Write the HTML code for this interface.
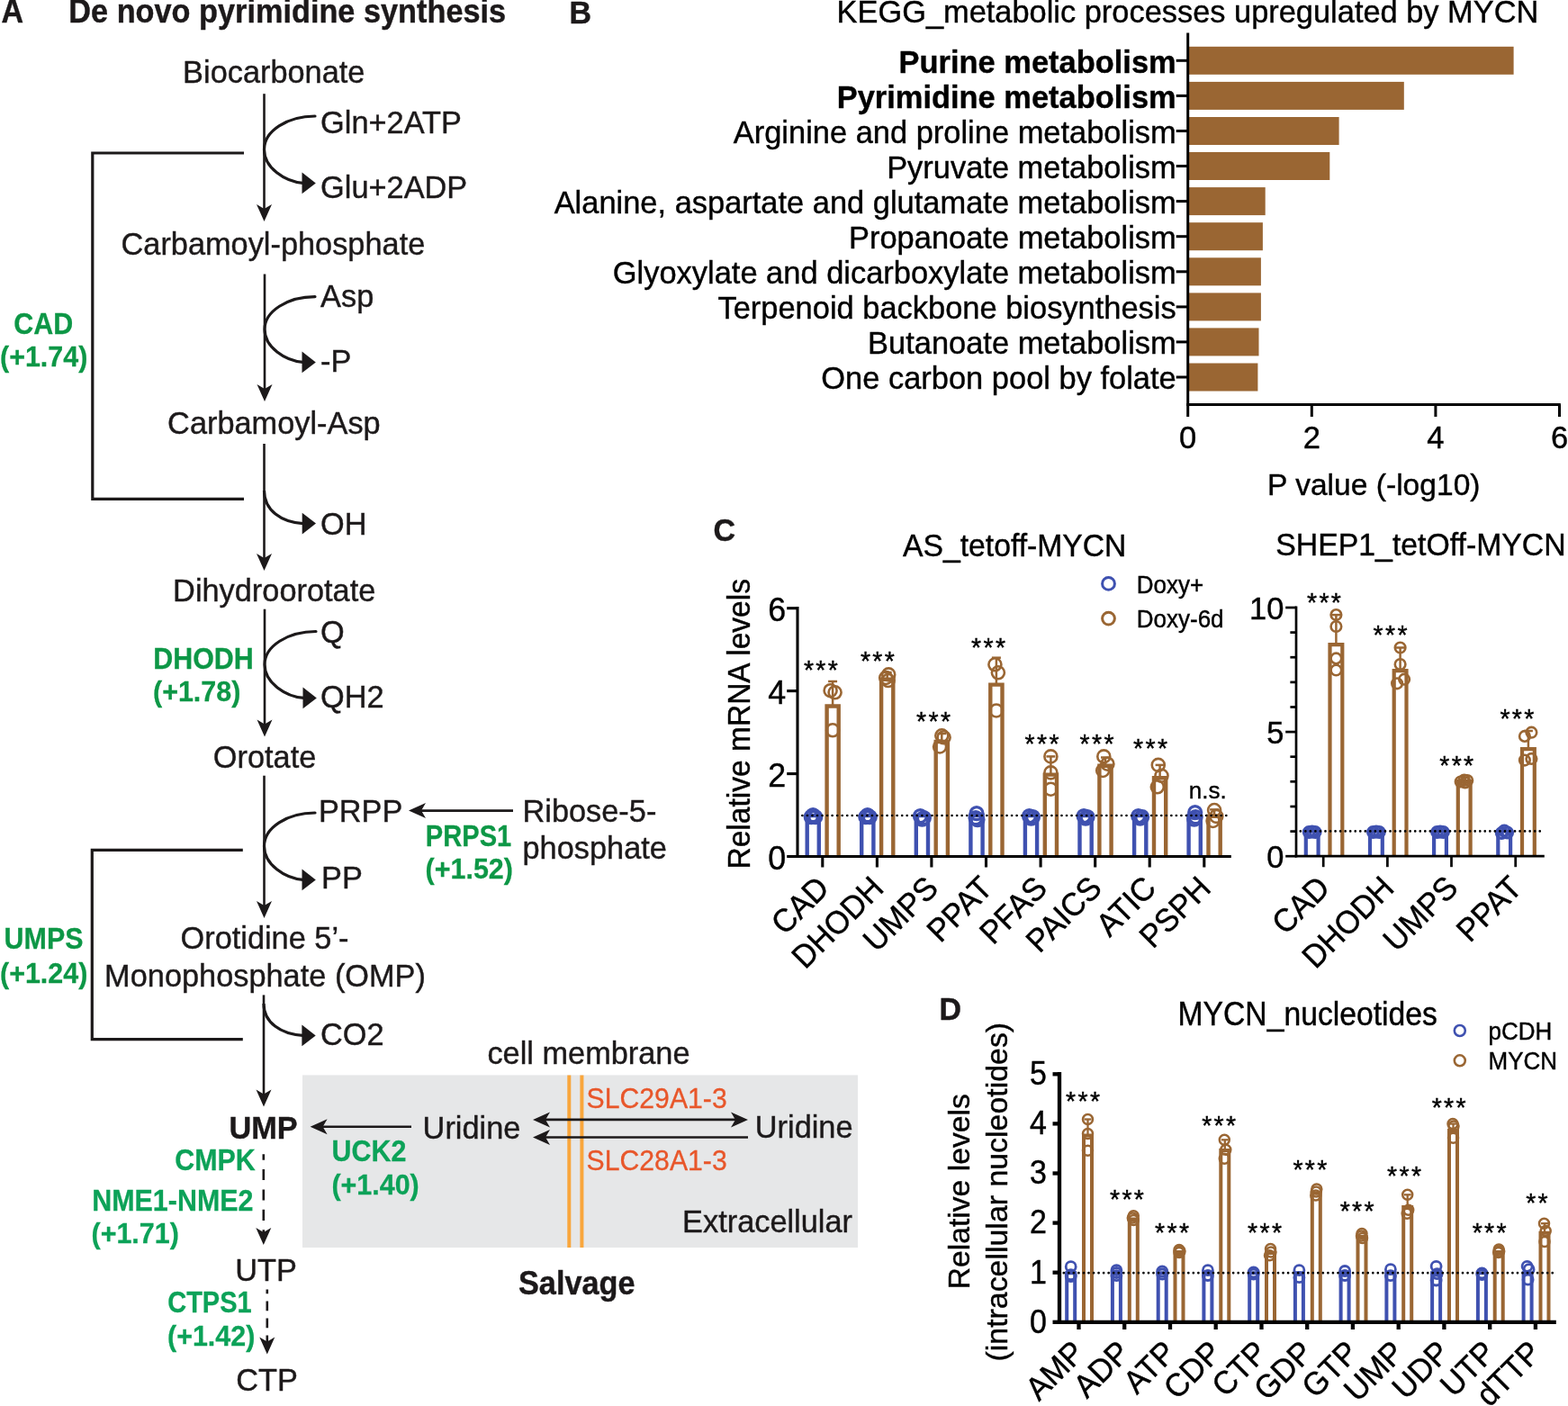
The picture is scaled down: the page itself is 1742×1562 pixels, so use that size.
<!DOCTYPE html>
<html lang="en">
<head>
<meta charset="utf-8">
<title>MYCN upregulates de novo pyrimidine synthesis</title>
<style>
html,body{margin:0;padding:0;background:#fff;}
body{width:1742px;height:1562px;overflow:hidden;}
svg{display:block;font-family:"Liberation Sans",sans-serif;fill:#1c191a;}
</style>
</head>
<body>
<svg width="1742" height="1562" viewBox="0 0 1742 1562">
<rect width="1742" height="1562" fill="#ffffff"/>
<text transform="translate(1.5 25.4) scale(1 1.075)" font-size="34" font-weight="bold" fill="#1c191a" stroke="#1c191a" stroke-width="0.4">A</text>
<text transform="translate(76.3 25.4) scale(1 1.075)" font-size="34.3" font-weight="bold" fill="#1c191a" stroke="#1c191a" stroke-width="0.4">De novo pyrimidine synthesis</text>
<text transform="translate(203.1 91.8) scale(1 1.035)" font-size="34.35" fill="#1c191a" stroke="#1c191a" stroke-width="0.4">Biocarbonate</text>
<line x1="293.5" y1="104.2" x2="293.5" y2="233.0" stroke="#1c191a" stroke-width="2.6"/>
<polygon points="293.5,246.0 285.0,227.0 293.5,232.0 302.0,227.0" fill="#1c191a"/>
<path d="M350.0,129.0 C318.9,129.0 293.5,145.7 293.5,166.0 C293.5,186.6 316.6,201.9 336.5,203.4" stroke="#1c191a" stroke-width="3.2" fill="none" stroke-linecap="round"/>
<polygon points="335.5,191.6 335.5,215.2 350.8,203.4" fill="#1c191a"/>
<text transform="translate(356.1 148.2) scale(1 1.035)" font-size="34.35" fill="#1c191a" stroke="#1c191a" stroke-width="0.4">Gln+2ATP</text>
<text transform="translate(356.1 219.6) scale(1 1.035)" font-size="34.35" fill="#1c191a" stroke="#1c191a" stroke-width="0.4">Glu+2ADP</text>
<path d="M271,170 H102.8 V554.4 H271" stroke="#1c191a" stroke-width="3.2" fill="none"/>
<text transform="translate(134.5 282.7) scale(1 1.035)" font-size="34.35" fill="#1c191a" stroke="#1c191a" stroke-width="0.4">Carbamoyl-phosphate</text>
<line x1="294.0" y1="304.5" x2="294.0" y2="433.0" stroke="#1c191a" stroke-width="2.6"/>
<polygon points="294.0,446.0 285.5,427.0 294.0,432.0 302.5,427.0" fill="#1c191a"/>
<path d="M350.0,329.6 C319.2,329.6 294.0,345.9 294.0,365.8 C294.0,385.9 316.8,400.9 336.5,402.4" stroke="#1c191a" stroke-width="3.2" fill="none" stroke-linecap="round"/>
<polygon points="335.5,390.6 335.5,414.2 350.8,402.4" fill="#1c191a"/>
<text transform="translate(356.1 341.2) scale(1 1.035)" font-size="34.35" fill="#1c191a" stroke="#1c191a" stroke-width="0.4">Asp</text>
<text transform="translate(356.1 412.5) scale(1 1.02)" font-size="34.35" fill="#1c191a" stroke="#1c191a" stroke-width="0.4">-P</text>
<text transform="translate(15.2 371.0) scale(1 1.11)" font-size="30.45" font-weight="bold" fill="#0d9746" stroke="#0d9746" stroke-width="0.25">CAD</text>
<text transform="translate(0.0 406.5) scale(1 1.03)" font-size="30.45" font-weight="bold" fill="#0d9746" stroke="#0d9746" stroke-width="0.25">(+1.74)</text>
<text transform="translate(186.1 482.2) scale(1 1.035)" font-size="34.35" fill="#1c191a" stroke="#1c191a" stroke-width="0.4">Carbamoyl-Asp</text>
<line x1="293.5" y1="493.0" x2="293.5" y2="621.0" stroke="#1c191a" stroke-width="2.6"/>
<polygon points="293.5,634.0 285.0,615.0 293.5,620.0 302.0,615.0" fill="#1c191a"/>
<path d="M293.5,545.0 C293.5,567.0 312.5,580.1 336.7,581.6" stroke="#1c191a" stroke-width="3.2" fill="none"/>
<polygon points="335.7,569.8 335.7,593.4 351.0,581.6" fill="#1c191a"/>
<text transform="translate(356.1 593.9) scale(1 1.02)" font-size="34.35" fill="#1c191a" stroke="#1c191a" stroke-width="0.4">OH</text>
<text transform="translate(192.1 667.9) scale(1 1.035)" font-size="34.35" fill="#1c191a" stroke="#1c191a" stroke-width="0.4">Dihydroorotate</text>
<line x1="294.0" y1="676.7" x2="294.0" y2="805.6" stroke="#1c191a" stroke-width="2.6"/>
<polygon points="294.0,818.6 285.5,799.6 294.0,804.6 302.5,799.6" fill="#1c191a"/>
<path d="M351.0,701.5 C319.6,701.5 294.0,718.0 294.0,738.2 C294.0,758.7 317.4,773.9 337.5,775.4" stroke="#1c191a" stroke-width="3.2" fill="none" stroke-linecap="round"/>
<polygon points="336.5,763.6 336.5,787.2 351.8,775.4" fill="#1c191a"/>
<text transform="translate(356.1 714.2) scale(1 1.02)" font-size="34.35" fill="#1c191a" stroke="#1c191a" stroke-width="0.4">Q</text>
<text transform="translate(356.1 786.2) scale(1 1.02)" font-size="34.35" fill="#1c191a" stroke="#1c191a" stroke-width="0.4">QH2</text>
<text transform="translate(170.2 742.8) scale(1 1.11)" font-size="30.45" font-weight="bold" fill="#0d9746" stroke="#0d9746" stroke-width="0.25">DHODH</text>
<text transform="translate(170.0 779.0) scale(1 1.03)" font-size="30.45" font-weight="bold" fill="#0d9746" stroke="#0d9746" stroke-width="0.25">(+1.78)</text>
<text transform="translate(236.8 853.2) scale(1 1.035)" font-size="34.35" fill="#1c191a" stroke="#1c191a" stroke-width="0.4">Orotate</text>
<line x1="293.5" y1="861.7" x2="293.5" y2="1007.0" stroke="#1c191a" stroke-width="2.6"/>
<polygon points="293.5,1020.0 285.0,1001.0 293.5,1006.0 302.0,1001.0" fill="#1c191a"/>
<path d="M350.0,903.0 C318.9,903.0 293.5,919.6 293.5,940.0 C293.5,960.6 316.6,975.9 336.5,977.4" stroke="#1c191a" stroke-width="3.2" fill="none" stroke-linecap="round"/>
<polygon points="335.5,965.6 335.5,989.2 350.8,977.4" fill="#1c191a"/>
<text transform="translate(353.9 912.8) scale(1 1.02)" font-size="34.35" fill="#1c191a" stroke="#1c191a" stroke-width="0.4">PRPP</text>
<text transform="translate(357.1 986.9) scale(1 1.02)" font-size="34.35" fill="#1c191a" stroke="#1c191a" stroke-width="0.4">PP</text>
<line x1="570.0" y1="900.6" x2="467.0" y2="900.6" stroke="#1c191a" stroke-width="2.6"/>
<polygon points="454.0,900.6 473.0,892.1 468.0,900.6 473.0,909.1" fill="#1c191a"/>
<text transform="translate(472.8 939.8) scale(1 1.11)" font-size="30.45" font-weight="bold" fill="#0d9746" stroke="#0d9746" stroke-width="0.25" textLength="95.5" lengthAdjust="spacingAndGlyphs">PRPS1</text>
<text transform="translate(472.6 976.2) scale(1 1.03)" font-size="30.45" font-weight="bold" fill="#0d9746" stroke="#0d9746" stroke-width="0.25">(+1.52)</text>
<text transform="translate(580.5 913.2) scale(1 1.035)" font-size="34.35" fill="#1c191a" stroke="#1c191a" stroke-width="0.4">Ribose-5-</text>
<text transform="translate(580.5 954.2) scale(1 1.035)" font-size="34.35" fill="#1c191a" stroke="#1c191a" stroke-width="0.4">phosphate</text>
<path d="M269.8,944.4 H102.3 V1154.7 H269.8" stroke="#1c191a" stroke-width="3.2" fill="none"/>
<text transform="translate(4.6 1054.0) scale(1 1.11)" font-size="30.45" font-weight="bold" fill="#0d9746" stroke="#0d9746" stroke-width="0.25">UMPS</text>
<text transform="translate(0.0 1091.7) scale(1 1.03)" font-size="30.45" font-weight="bold" fill="#0d9746" stroke="#0d9746" stroke-width="0.25">(+1.24)</text>
<text transform="translate(200.5 1054.2) scale(1 1.035)" font-size="34.35" fill="#1c191a" stroke="#1c191a" stroke-width="0.4">Orotidine 5’-</text>
<text transform="translate(116.1 1095.5) scale(1 1.035)" font-size="34.35" fill="#1c191a" stroke="#1c191a" stroke-width="0.4">Monophosphate (OMP)</text>
<line x1="293.0" y1="1105.4" x2="293.0" y2="1216.6" stroke="#1c191a" stroke-width="2.6"/>
<polygon points="293.0,1229.6 284.5,1210.6 293.0,1215.6 301.5,1210.6" fill="#1c191a"/>
<path d="M293.0,1115.0 C293.0,1136.2 312.1,1148.9 336.4,1150.4" stroke="#1c191a" stroke-width="3.2" fill="none"/>
<polygon points="335.4,1138.6 335.4,1162.2 350.7,1150.4" fill="#1c191a"/>
<text transform="translate(355.9 1161.2) scale(1 1.02)" font-size="34.35" fill="#1c191a" stroke="#1c191a" stroke-width="0.4">CO2</text>
<rect x="336.0" y="1194.4" width="617.0" height="191.6" fill="#e6e7e8"/>
<text transform="translate(541.4 1182.2) scale(1 1.035)" font-size="34.35" fill="#1c191a" stroke="#1c191a" stroke-width="0.4">cell membrane</text>
<line x1="632.3" y1="1194.4" x2="632.3" y2="1386.0" stroke="#f9a63c" stroke-width="4"/>
<line x1="646.4" y1="1194.4" x2="646.4" y2="1386.0" stroke="#f9a63c" stroke-width="4"/>
<text transform="translate(254.4 1265.4) scale(1 1.04)" font-size="34.3" font-weight="bold" fill="#1c191a" stroke="#1c191a" stroke-width="0.4">UMP</text>
<line x1="457.0" y1="1251.8" x2="357.6" y2="1251.8" stroke="#1c191a" stroke-width="2.6"/>
<polygon points="344.6,1251.8 363.6,1243.3 358.6,1251.8 363.6,1260.3" fill="#1c191a"/>
<text transform="translate(469.6 1265.2) scale(1 1.035)" font-size="34.35" fill="#1c191a" stroke="#1c191a" stroke-width="0.4">Uridine</text>
<text transform="translate(838.8 1263.7) scale(1 1.035)" font-size="34.35" fill="#1c191a" stroke="#1c191a" stroke-width="0.4">Uridine</text>
<text transform="translate(651.6 1230.6) scale(1 1.06)" font-size="30.2" fill="#e8562a" stroke="#e8562a" stroke-width="0.3">SLC29A1-3</text>
<text transform="translate(651.6 1299.7) scale(1 1.06)" font-size="30.2" fill="#e8562a" stroke="#e8562a" stroke-width="0.3">SLC28A1-3</text>
<line x1="605.0" y1="1243.9" x2="818.0" y2="1243.9" stroke="#1c191a" stroke-width="2.6"/>
<polygon points="592.0,1243.9 611.0,1235.4 606.0,1243.9 611.0,1252.4" fill="#1c191a"/>
<polygon points="831.0,1243.9 812.0,1235.4 817.0,1243.9 812.0,1252.4" fill="#1c191a"/>
<line x1="831.0" y1="1263.5" x2="605.0" y2="1263.5" stroke="#1c191a" stroke-width="2.6"/>
<polygon points="592.0,1263.5 611.0,1255.0 606.0,1263.5 611.0,1272.0" fill="#1c191a"/>
<text transform="translate(758.1 1369.2) scale(1 1.035)" font-size="34.35" fill="#1c191a" stroke="#1c191a" stroke-width="0.4">Extracellular</text>
<text transform="translate(576.0 1438.0) scale(1 1.075)" font-size="34.3" font-weight="bold" fill="#1c191a" stroke="#1c191a" stroke-width="0.4">Salvage</text>
<text transform="translate(368.6 1290.0) scale(1 1.11)" font-size="30.45" font-weight="bold" fill="#0ca258" stroke="#0ca258" stroke-width="0.25">UCK2</text>
<text transform="translate(368.4 1327.0) scale(1 1.03)" font-size="30.45" font-weight="bold" fill="#0ca258" stroke="#0ca258" stroke-width="0.25">(+1.40)</text>
<text transform="translate(194.2 1299.6) scale(1 1.11)" font-size="30.45" font-weight="bold" fill="#0ca258" stroke="#0ca258" stroke-width="0.25">CMPK</text>
<text transform="translate(102.2 1344.6) scale(1 1.11)" font-size="30.45" font-weight="bold" fill="#0ca258" stroke="#0ca258" stroke-width="0.25">NME1-NME2</text>
<text transform="translate(101.5 1381.0) scale(1 1.03)" font-size="30.45" font-weight="bold" fill="#0ca258" stroke="#0ca258" stroke-width="0.25">(+1.71)</text>
<line x1="292.8" y1="1282.2" x2="292.8" y2="1370.0" stroke="#1c191a" stroke-width="2.6" stroke-dasharray="12.1 10.3" stroke-dashoffset="5.6"/>
<polygon points="292.8,1383.0 284.3,1364.0 292.8,1369.0 301.3,1364.0" fill="#1c191a"/>
<text transform="translate(261.3 1423.2) scale(1 1.02)" font-size="34.35" fill="#1c191a" stroke="#1c191a" stroke-width="0.4">UTP</text>
<text transform="translate(186.2 1457.5) scale(1 1.11)" font-size="30.45" font-weight="bold" fill="#0ca258" stroke="#0ca258" stroke-width="0.25" textLength="93.5" lengthAdjust="spacingAndGlyphs">CTPS1</text>
<text transform="translate(186.0 1494.6) scale(1 1.03)" font-size="30.45" font-weight="bold" fill="#0ca258" stroke="#0ca258" stroke-width="0.25">(+1.42)</text>
<line x1="296.8" y1="1432.6" x2="296.8" y2="1491.6" stroke="#1c191a" stroke-width="2.6" stroke-dasharray="10.7 8.3" stroke-dashoffset="6"/>
<polygon points="296.8,1504.6 288.3,1485.6 296.8,1490.6 305.3,1485.6" fill="#1c191a"/>
<text transform="translate(262.3 1545.0) scale(1 1.02)" font-size="34.35" fill="#1c191a" stroke="#1c191a" stroke-width="0.4">CTP</text>
<text transform="translate(632.5 25.6) scale(1 1.03)" font-size="34" font-weight="bold" fill="#1c191a" stroke="#1c191a" stroke-width="0.4">B</text>
<text transform="translate(929.5 25.4) scale(1 1.01)" font-size="34.4" fill="#000000" stroke="#000000" stroke-width="0.4">KEGG_metabolic processes upregulated by MYCN</text>
<rect x="1319.7" y="51.8" width="361.9" height="31.0" fill="#9a6633"/>
<line x1="1306.7" y1="67.3" x2="1319.7" y2="67.3" stroke="#000000" stroke-width="3.0"/>
<text transform="translate(1306.7 80.6) scale(1 1.01)" font-size="34.45" font-weight="bold" fill="#000000" stroke="#000000" stroke-width="0.4" text-anchor="end">Purine metabolism</text>
<rect x="1319.7" y="90.9" width="240.1" height="31.0" fill="#9a6633"/>
<line x1="1306.7" y1="106.4" x2="1319.7" y2="106.4" stroke="#000000" stroke-width="3.0"/>
<text transform="translate(1306.7 119.7) scale(1 1.01)" font-size="34.45" font-weight="bold" fill="#000000" stroke="#000000" stroke-width="0.4" text-anchor="end">Pyrimidine metabolism</text>
<rect x="1319.7" y="130.0" width="167.9" height="31.0" fill="#9a6633"/>
<line x1="1306.7" y1="145.5" x2="1319.7" y2="145.5" stroke="#000000" stroke-width="3.0"/>
<text transform="translate(1306.7 158.8) scale(1 1.01)" font-size="34.45" fill="#000000" stroke="#000000" stroke-width="0.4" text-anchor="end">Arginine and proline metabolism</text>
<rect x="1319.7" y="169.0" width="157.6" height="31.0" fill="#9a6633"/>
<line x1="1306.7" y1="184.5" x2="1319.7" y2="184.5" stroke="#000000" stroke-width="3.0"/>
<text transform="translate(1306.7 197.8) scale(1 1.01)" font-size="34.45" fill="#000000" stroke="#000000" stroke-width="0.4" text-anchor="end">Pyruvate metabolism</text>
<rect x="1319.7" y="208.1" width="86.0" height="31.0" fill="#9a6633"/>
<line x1="1306.7" y1="223.6" x2="1319.7" y2="223.6" stroke="#000000" stroke-width="3.0"/>
<text transform="translate(1306.7 236.9) scale(1 1.01)" font-size="34.45" fill="#000000" stroke="#000000" stroke-width="0.4" text-anchor="end">Alanine, aspartate and glutamate metabolism</text>
<rect x="1319.7" y="247.2" width="83.2" height="31.0" fill="#9a6633"/>
<line x1="1306.7" y1="262.7" x2="1319.7" y2="262.7" stroke="#000000" stroke-width="3.0"/>
<text transform="translate(1306.7 276.0) scale(1 1.01)" font-size="34.45" fill="#000000" stroke="#000000" stroke-width="0.4" text-anchor="end">Propanoate metabolism</text>
<rect x="1319.7" y="286.3" width="81.2" height="31.0" fill="#9a6633"/>
<line x1="1306.7" y1="301.8" x2="1319.7" y2="301.8" stroke="#000000" stroke-width="3.0"/>
<text transform="translate(1306.7 315.1) scale(1 1.01)" font-size="34.45" fill="#000000" stroke="#000000" stroke-width="0.4" text-anchor="end">Glyoxylate and dicarboxylate metabolism</text>
<rect x="1319.7" y="325.4" width="81.2" height="31.0" fill="#9a6633"/>
<line x1="1306.7" y1="340.9" x2="1319.7" y2="340.9" stroke="#000000" stroke-width="3.0"/>
<text transform="translate(1306.7 354.2) scale(1 1.01)" font-size="34.45" fill="#000000" stroke="#000000" stroke-width="0.4" text-anchor="end">Terpenoid backbone biosynthesis</text>
<rect x="1319.7" y="364.4" width="78.8" height="31.0" fill="#9a6633"/>
<line x1="1306.7" y1="379.9" x2="1319.7" y2="379.9" stroke="#000000" stroke-width="3.0"/>
<text transform="translate(1306.7 393.2) scale(1 1.01)" font-size="34.45" fill="#000000" stroke="#000000" stroke-width="0.4" text-anchor="end">Butanoate metabolism</text>
<rect x="1319.7" y="403.5" width="77.7" height="31.0" fill="#9a6633"/>
<line x1="1306.7" y1="419.0" x2="1319.7" y2="419.0" stroke="#000000" stroke-width="3.0"/>
<text transform="translate(1306.7 432.3) scale(1 1.01)" font-size="34.45" fill="#000000" stroke="#000000" stroke-width="0.4" text-anchor="end">One carbon pool by folate</text>
<line x1="1319.7" y1="36.5" x2="1319.7" y2="451.0" stroke="#000000" stroke-width="3.0"/>
<line x1="1318.2" y1="449.5" x2="1733.8" y2="449.5" stroke="#000000" stroke-width="3.0"/>
<line x1="1319.7" y1="449.5" x2="1319.7" y2="463.0" stroke="#000000" stroke-width="3.0"/>
<text transform="translate(1319.7 498.2) scale(1 1.005)" font-size="34.6" fill="#000000" stroke="#000000" stroke-width="0.4" text-anchor="middle">0</text>
<line x1="1457.3" y1="449.5" x2="1457.3" y2="463.0" stroke="#000000" stroke-width="3.0"/>
<text transform="translate(1457.3 498.2) scale(1 1.005)" font-size="34.6" fill="#000000" stroke="#000000" stroke-width="0.4" text-anchor="middle">2</text>
<line x1="1594.9" y1="449.5" x2="1594.9" y2="463.0" stroke="#000000" stroke-width="3.0"/>
<text transform="translate(1594.9 498.2) scale(1 1.005)" font-size="34.6" fill="#000000" stroke="#000000" stroke-width="0.4" text-anchor="middle">4</text>
<line x1="1732.5" y1="449.5" x2="1732.5" y2="463.0" stroke="#000000" stroke-width="3.0"/>
<text transform="translate(1732.5 498.2) scale(1 1.005)" font-size="34.6" fill="#000000" stroke="#000000" stroke-width="0.4" text-anchor="middle">6</text>
<text transform="translate(1408.0 549.9) scale(1 1.005)" font-size="33.6" fill="#000000" stroke="#000000" stroke-width="0.4">P value (-log10)</text>
<text transform="translate(792.5 600.8) scale(1 1.03)" font-size="34" font-weight="bold" fill="#1c191a" stroke="#1c191a" stroke-width="0.4">C</text>
<text transform="translate(1003.0 617.9) scale(1 1.06)" font-size="33.7" fill="#000000" stroke="#000000" stroke-width="0.4">AS_tetoff-MYCN</text>
<circle cx="1231.5" cy="648.4" r="6.9" stroke="#3f51b0" stroke-width="3.0" fill="none"/>
<text transform="translate(1262.8 658.6) scale(1 1.06)" font-size="26" fill="#000000" stroke="#000000" stroke-width="0.4">Doxy+</text>
<circle cx="1231.5" cy="687.1" r="6.9" stroke="#9a6633" stroke-width="3.0" fill="none"/>
<text transform="translate(1262.8 697.3) scale(1 1.06)" font-size="26" fill="#000000" stroke="#000000" stroke-width="0.4">Doxy-6d</text>
<path d="M896.7,951.5 V906.0 H909.8 V951.5" stroke="#3f51b0" stroke-width="4.4" fill="none" stroke-linejoin="miter"/>
<circle cx="901.2" cy="907.6" r="7.0" stroke="#3f51b0" stroke-width="3.2" fill="none"/>
<circle cx="905.8" cy="907.6" r="7.0" stroke="#3f51b0" stroke-width="3.2" fill="none"/>
<circle cx="903.2" cy="905.6" r="7.0" stroke="#3f51b0" stroke-width="3.2" fill="none"/>
<path d="M918.6,951.5 V784.5 H931.7 V951.5" stroke="#9a6633" stroke-width="4.4" fill="none" stroke-linejoin="miter"/>
<line x1="925.1" y1="757.0" x2="925.1" y2="783.3" stroke="#9a6633" stroke-width="2.5"/>
<line x1="920.1" y1="757.0" x2="930.1" y2="757.0" stroke="#9a6633" stroke-width="2.5"/>
<circle cx="922.6" cy="767.2" r="7.0" stroke="#9a6633" stroke-width="2.6" fill="none"/>
<circle cx="927.6" cy="769.3" r="7.0" stroke="#9a6633" stroke-width="2.6" fill="none"/>
<circle cx="925.1" cy="811.3" r="7.0" stroke="#9a6633" stroke-width="2.6" fill="none"/>
<path d="M957.2,951.5 V906.0 H970.4 V951.5" stroke="#3f51b0" stroke-width="4.4" fill="none" stroke-linejoin="miter"/>
<circle cx="961.8" cy="907.6" r="7.0" stroke="#3f51b0" stroke-width="3.2" fill="none"/>
<circle cx="966.3" cy="907.6" r="7.0" stroke="#3f51b0" stroke-width="3.2" fill="none"/>
<circle cx="963.8" cy="905.6" r="7.0" stroke="#3f51b0" stroke-width="3.2" fill="none"/>
<path d="M979.1,951.5 V754.7 H992.3 V951.5" stroke="#9a6633" stroke-width="4.4" fill="none" stroke-linejoin="miter"/>
<line x1="985.7" y1="747.0" x2="985.7" y2="753.5" stroke="#9a6633" stroke-width="2.5"/>
<line x1="980.7" y1="747.0" x2="990.7" y2="747.0" stroke="#9a6633" stroke-width="2.5"/>
<circle cx="987.2" cy="749.4" r="7.0" stroke="#9a6633" stroke-width="2.6" fill="none"/>
<circle cx="984.2" cy="753.0" r="7.0" stroke="#9a6633" stroke-width="2.6" fill="none"/>
<circle cx="986.7" cy="756.0" r="7.0" stroke="#9a6633" stroke-width="2.6" fill="none"/>
<path d="M1017.8,951.5 V906.0 H1031.0 V951.5" stroke="#3f51b0" stroke-width="4.4" fill="none" stroke-linejoin="miter"/>
<circle cx="1022.4" cy="906.6" r="7.0" stroke="#3f51b0" stroke-width="3.2" fill="none"/>
<circle cx="1026.4" cy="908.6" r="7.0" stroke="#3f51b0" stroke-width="3.2" fill="none"/>
<circle cx="1024.4" cy="910.1" r="7.0" stroke="#3f51b0" stroke-width="3.2" fill="none"/>
<path d="M1039.7,951.5 V824.0 H1052.9 V951.5" stroke="#9a6633" stroke-width="4.4" fill="none" stroke-linejoin="miter"/>
<line x1="1046.3" y1="815.0" x2="1046.3" y2="822.8" stroke="#9a6633" stroke-width="2.5"/>
<line x1="1041.3" y1="815.0" x2="1051.3" y2="815.0" stroke="#9a6633" stroke-width="2.5"/>
<circle cx="1046.3" cy="817.3" r="7.0" stroke="#9a6633" stroke-width="2.6" fill="none"/>
<circle cx="1048.6" cy="819.3" r="7.0" stroke="#9a6633" stroke-width="2.6" fill="none"/>
<circle cx="1044.1" cy="829.5" r="7.0" stroke="#9a6633" stroke-width="2.6" fill="none"/>
<path d="M1078.4,951.5 V906.0 H1091.6 V951.5" stroke="#3f51b0" stroke-width="4.4" fill="none" stroke-linejoin="miter"/>
<circle cx="1085.0" cy="903.6" r="7.0" stroke="#3f51b0" stroke-width="3.2" fill="none"/>
<circle cx="1084.0" cy="908.6" r="7.0" stroke="#3f51b0" stroke-width="3.2" fill="none"/>
<circle cx="1086.0" cy="910.6" r="7.0" stroke="#3f51b0" stroke-width="3.2" fill="none"/>
<path d="M1100.3,951.5 V760.6 H1113.5 V951.5" stroke="#9a6633" stroke-width="4.4" fill="none" stroke-linejoin="miter"/>
<line x1="1106.9" y1="730.7" x2="1106.9" y2="759.4" stroke="#9a6633" stroke-width="2.5"/>
<line x1="1101.9" y1="730.7" x2="1111.9" y2="730.7" stroke="#9a6633" stroke-width="2.5"/>
<circle cx="1105.4" cy="738.3" r="7.0" stroke="#9a6633" stroke-width="2.6" fill="none"/>
<circle cx="1108.9" cy="747.3" r="7.0" stroke="#9a6633" stroke-width="2.6" fill="none"/>
<circle cx="1106.9" cy="789.5" r="7.0" stroke="#9a6633" stroke-width="2.6" fill="none"/>
<path d="M1138.9,951.5 V906.0 H1152.1 V951.5" stroke="#3f51b0" stroke-width="4.4" fill="none" stroke-linejoin="miter"/>
<circle cx="1143.5" cy="906.6" r="7.0" stroke="#3f51b0" stroke-width="3.2" fill="none"/>
<circle cx="1147.5" cy="907.6" r="7.0" stroke="#3f51b0" stroke-width="3.2" fill="none"/>
<circle cx="1145.5" cy="909.1" r="7.0" stroke="#3f51b0" stroke-width="3.2" fill="none"/>
<path d="M1160.8,951.5 V860.6 H1174.0 V951.5" stroke="#9a6633" stroke-width="4.4" fill="none" stroke-linejoin="miter"/>
<line x1="1167.4" y1="840.4" x2="1167.4" y2="859.4" stroke="#9a6633" stroke-width="2.5"/>
<line x1="1162.4" y1="840.4" x2="1172.4" y2="840.4" stroke="#9a6633" stroke-width="2.5"/>
<circle cx="1167.4" cy="840.4" r="7.0" stroke="#9a6633" stroke-width="2.6" fill="none"/>
<circle cx="1167.4" cy="858.4" r="7.0" stroke="#9a6633" stroke-width="2.6" fill="none"/>
<circle cx="1167.4" cy="876.7" r="7.0" stroke="#9a6633" stroke-width="2.6" fill="none"/>
<path d="M1199.5,951.5 V906.0 H1212.7 V951.5" stroke="#3f51b0" stroke-width="4.4" fill="none" stroke-linejoin="miter"/>
<circle cx="1204.1" cy="906.6" r="7.0" stroke="#3f51b0" stroke-width="3.2" fill="none"/>
<circle cx="1208.1" cy="907.6" r="7.0" stroke="#3f51b0" stroke-width="3.2" fill="none"/>
<circle cx="1206.1" cy="909.1" r="7.0" stroke="#3f51b0" stroke-width="3.2" fill="none"/>
<path d="M1221.4,951.5 V850.7 H1234.6 V951.5" stroke="#9a6633" stroke-width="4.4" fill="none" stroke-linejoin="miter"/>
<line x1="1228.0" y1="841.5" x2="1228.0" y2="849.5" stroke="#9a6633" stroke-width="2.5"/>
<line x1="1223.0" y1="841.5" x2="1233.0" y2="841.5" stroke="#9a6633" stroke-width="2.5"/>
<circle cx="1226.3" cy="840.4" r="7.0" stroke="#9a6633" stroke-width="2.6" fill="none"/>
<circle cx="1230.4" cy="848.7" r="7.0" stroke="#9a6633" stroke-width="2.6" fill="none"/>
<circle cx="1225.2" cy="856.0" r="7.0" stroke="#9a6633" stroke-width="2.6" fill="none"/>
<path d="M1260.1,951.5 V906.0 H1273.3 V951.5" stroke="#3f51b0" stroke-width="4.4" fill="none" stroke-linejoin="miter"/>
<circle cx="1264.7" cy="906.6" r="7.0" stroke="#3f51b0" stroke-width="3.2" fill="none"/>
<circle cx="1268.7" cy="907.6" r="7.0" stroke="#3f51b0" stroke-width="3.2" fill="none"/>
<circle cx="1266.7" cy="909.1" r="7.0" stroke="#3f51b0" stroke-width="3.2" fill="none"/>
<path d="M1282.0,951.5 V864.2 H1295.2 V951.5" stroke="#9a6633" stroke-width="4.4" fill="none" stroke-linejoin="miter"/>
<line x1="1288.6" y1="849.9" x2="1288.6" y2="863.0" stroke="#9a6633" stroke-width="2.5"/>
<line x1="1283.6" y1="849.9" x2="1293.6" y2="849.9" stroke="#9a6633" stroke-width="2.5"/>
<circle cx="1286.8" cy="849.9" r="7.0" stroke="#9a6633" stroke-width="2.6" fill="none"/>
<circle cx="1290.5" cy="861.8" r="7.0" stroke="#9a6633" stroke-width="2.6" fill="none"/>
<circle cx="1285.8" cy="874.3" r="7.0" stroke="#9a6633" stroke-width="2.6" fill="none"/>
<path d="M1320.6,951.5 V906.0 H1333.8 V951.5" stroke="#3f51b0" stroke-width="4.4" fill="none" stroke-linejoin="miter"/>
<circle cx="1327.7" cy="902.6" r="7.0" stroke="#3f51b0" stroke-width="3.2" fill="none"/>
<circle cx="1326.7" cy="910.1" r="7.0" stroke="#3f51b0" stroke-width="3.2" fill="none"/>
<circle cx="1328.2" cy="907.6" r="7.0" stroke="#3f51b0" stroke-width="3.2" fill="none"/>
<path d="M1342.5,951.5 V906.7 H1355.7 V951.5" stroke="#9a6633" stroke-width="4.4" fill="none" stroke-linejoin="miter"/>
<line x1="1349.1" y1="899.4" x2="1349.1" y2="905.5" stroke="#9a6633" stroke-width="2.5"/>
<line x1="1344.1" y1="899.4" x2="1354.1" y2="899.4" stroke="#9a6633" stroke-width="2.5"/>
<circle cx="1349.1" cy="900.0" r="7.0" stroke="#9a6633" stroke-width="2.6" fill="none"/>
<circle cx="1351.3" cy="906.9" r="7.0" stroke="#9a6633" stroke-width="2.6" fill="none"/>
<circle cx="1347.6" cy="912.0" r="7.0" stroke="#9a6633" stroke-width="2.6" fill="none"/>
<line x1="891.4" y1="906.0" x2="1367.5" y2="906.0" stroke="#000000" stroke-width="2.7" stroke-linecap="round" stroke-dasharray="0 5.54"/>
<line x1="886.0" y1="674.1" x2="886.0" y2="953.0" stroke="#000000" stroke-width="3.1"/>
<line x1="884.5" y1="951.5" x2="1367.8" y2="951.5" stroke="#000000" stroke-width="3.1"/>
<line x1="874.2" y1="951.5" x2="886.0" y2="951.5" stroke="#000000" stroke-width="3.1"/>
<text transform="translate(873.1 966.1) scale(1 1.012)" font-size="35.8" fill="#000000" stroke="#000000" stroke-width="0.4" text-anchor="end">0</text>
<line x1="874.2" y1="859.6" x2="886.0" y2="859.6" stroke="#000000" stroke-width="3.1"/>
<text transform="translate(873.1 874.2) scale(1 1.012)" font-size="35.8" fill="#000000" stroke="#000000" stroke-width="0.4" text-anchor="end">2</text>
<line x1="874.2" y1="767.6" x2="886.0" y2="767.6" stroke="#000000" stroke-width="3.1"/>
<text transform="translate(873.1 782.2) scale(1 1.012)" font-size="35.8" fill="#000000" stroke="#000000" stroke-width="0.4" text-anchor="end">4</text>
<line x1="874.2" y1="675.7" x2="886.0" y2="675.7" stroke="#000000" stroke-width="3.1"/>
<text transform="translate(873.1 690.3) scale(1 1.012)" font-size="35.8" fill="#000000" stroke="#000000" stroke-width="0.4" text-anchor="end">6</text>
<line x1="913.8" y1="951.5" x2="913.8" y2="963.5" stroke="#000000" stroke-width="3.1"/>
<text transform="translate(923.0 988.7) rotate(-45) scale(1 1.045)" font-size="34.4" fill="#000000" stroke="#000000" stroke-width="0.4" text-anchor="end">CAD</text>
<line x1="974.4" y1="951.5" x2="974.4" y2="963.5" stroke="#000000" stroke-width="3.1"/>
<text transform="translate(983.6 988.7) rotate(-45) scale(1 1.045)" font-size="34.4" fill="#000000" stroke="#000000" stroke-width="0.4" text-anchor="end">DHODH</text>
<line x1="1034.9" y1="951.5" x2="1034.9" y2="963.5" stroke="#000000" stroke-width="3.1"/>
<text transform="translate(1044.1 988.7) rotate(-45) scale(1 1.045)" font-size="34.4" fill="#000000" stroke="#000000" stroke-width="0.4" text-anchor="end">UMPS</text>
<line x1="1095.5" y1="951.5" x2="1095.5" y2="963.5" stroke="#000000" stroke-width="3.1"/>
<text transform="translate(1104.7 988.7) rotate(-45) scale(1 1.045)" font-size="34.4" fill="#000000" stroke="#000000" stroke-width="0.4" text-anchor="end">PPAT</text>
<line x1="1156.1" y1="951.5" x2="1156.1" y2="963.5" stroke="#000000" stroke-width="3.1"/>
<text transform="translate(1165.3 988.7) rotate(-45) scale(1 1.045)" font-size="34.4" fill="#000000" stroke="#000000" stroke-width="0.4" text-anchor="end">PFAS</text>
<line x1="1216.7" y1="951.5" x2="1216.7" y2="963.5" stroke="#000000" stroke-width="3.1"/>
<text transform="translate(1225.9 988.7) rotate(-45) scale(1 1.045)" font-size="34.4" fill="#000000" stroke="#000000" stroke-width="0.4" text-anchor="end">PAICS</text>
<line x1="1277.2" y1="951.5" x2="1277.2" y2="963.5" stroke="#000000" stroke-width="3.1"/>
<text transform="translate(1286.4 988.7) rotate(-45) scale(1 1.045)" font-size="34.4" fill="#000000" stroke="#000000" stroke-width="0.4" text-anchor="end">ATIC</text>
<line x1="1337.8" y1="951.5" x2="1337.8" y2="963.5" stroke="#000000" stroke-width="3.1"/>
<text transform="translate(1347.0 988.7) rotate(-45) scale(1 1.045)" font-size="34.4" fill="#000000" stroke="#000000" stroke-width="0.4" text-anchor="end">PSPH</text>
<text transform="translate(832.8 804.3) rotate(-90) scale(1 1.06)" font-size="33.55" fill="#000000" stroke="#000000" stroke-width="0.4" text-anchor="middle">Relative mRNA levels</text>
<text transform="translate(913.0 753.8) scale(1 1.005)" font-size="28.5" fill="#000000" stroke="#000000" stroke-width="0.4" text-anchor="middle" letter-spacing="2.31">***</text>
<text transform="translate(976.0 744.3) scale(1 1.005)" font-size="28.5" fill="#000000" stroke="#000000" stroke-width="0.4" text-anchor="middle" letter-spacing="2.31">***</text>
<text transform="translate(1038.2 810.7) scale(1 1.005)" font-size="28.5" fill="#000000" stroke="#000000" stroke-width="0.4" text-anchor="middle" letter-spacing="2.31">***</text>
<text transform="translate(1099.2 728.8) scale(1 1.005)" font-size="28.5" fill="#000000" stroke="#000000" stroke-width="0.4" text-anchor="middle" letter-spacing="2.31">***</text>
<text transform="translate(1158.7 835.5) scale(1 1.005)" font-size="28.5" fill="#000000" stroke="#000000" stroke-width="0.4" text-anchor="middle" letter-spacing="2.31">***</text>
<text transform="translate(1219.7 835.5) scale(1 1.005)" font-size="28.5" fill="#000000" stroke="#000000" stroke-width="0.4" text-anchor="middle" letter-spacing="2.31">***</text>
<text transform="translate(1279.2 840.5) scale(1 1.005)" font-size="28.5" fill="#000000" stroke="#000000" stroke-width="0.4" text-anchor="middle" letter-spacing="2.31">***</text>
<text transform="translate(1341.7 886.7) scale(1 1.005)" font-size="26" fill="#000000" stroke="#000000" stroke-width="0.4" text-anchor="middle">n.s.</text>
<text transform="translate(1417.3 617.0) scale(1 1.06)" font-size="33.8" fill="#000000" stroke="#000000" stroke-width="0.4">SHEP1_tetOff-MYCN</text>
<path d="M1450.8,951.2 V923.4 H1464.6 V951.2" stroke="#3f51b0" stroke-width="4.2" fill="none" stroke-linejoin="miter"/>
<circle cx="1454.2" cy="924.5" r="5.8" stroke="#3f51b0" stroke-width="3.2" fill="none"/>
<circle cx="1457.7" cy="924.0" r="5.8" stroke="#3f51b0" stroke-width="3.2" fill="none"/>
<circle cx="1461.2" cy="924.5" r="5.8" stroke="#3f51b0" stroke-width="3.2" fill="none"/>
<path d="M1477.5,951.2 V716.1 H1491.3 V951.2" stroke="#9a6633" stroke-width="4.2" fill="none" stroke-linejoin="miter"/>
<line x1="1484.4" y1="683.1" x2="1484.4" y2="715.0" stroke="#9a6633" stroke-width="2.5"/>
<line x1="1479.4" y1="683.1" x2="1489.4" y2="683.1" stroke="#9a6633" stroke-width="2.5"/>
<circle cx="1484.4" cy="683.1" r="5.8" stroke="#9a6633" stroke-width="2.6" fill="none"/>
<circle cx="1484.4" cy="696.0" r="5.8" stroke="#9a6633" stroke-width="2.6" fill="none"/>
<circle cx="1484.4" cy="731.4" r="5.8" stroke="#9a6633" stroke-width="2.6" fill="none"/>
<circle cx="1484.4" cy="744.5" r="5.8" stroke="#9a6633" stroke-width="2.6" fill="none"/>
<path d="M1522.0,951.2 V923.4 H1535.8 V951.2" stroke="#3f51b0" stroke-width="4.2" fill="none" stroke-linejoin="miter"/>
<circle cx="1525.4" cy="924.5" r="5.8" stroke="#3f51b0" stroke-width="3.2" fill="none"/>
<circle cx="1528.9" cy="924.0" r="5.8" stroke="#3f51b0" stroke-width="3.2" fill="none"/>
<circle cx="1532.4" cy="924.5" r="5.8" stroke="#3f51b0" stroke-width="3.2" fill="none"/>
<path d="M1548.7,951.2 V745.1 H1562.5 V951.2" stroke="#9a6633" stroke-width="4.2" fill="none" stroke-linejoin="miter"/>
<line x1="1555.6" y1="719.5" x2="1555.6" y2="744.0" stroke="#9a6633" stroke-width="2.5"/>
<line x1="1550.6" y1="719.5" x2="1560.6" y2="719.5" stroke="#9a6633" stroke-width="2.5"/>
<circle cx="1555.6" cy="719.5" r="5.8" stroke="#9a6633" stroke-width="2.6" fill="none"/>
<circle cx="1555.6" cy="738.0" r="5.8" stroke="#9a6633" stroke-width="2.6" fill="none"/>
<circle cx="1560.1" cy="754.7" r="5.8" stroke="#9a6633" stroke-width="2.6" fill="none"/>
<circle cx="1552.1" cy="759.3" r="5.8" stroke="#9a6633" stroke-width="2.6" fill="none"/>
<path d="M1593.1,951.2 V923.4 H1606.9 V951.2" stroke="#3f51b0" stroke-width="4.2" fill="none" stroke-linejoin="miter"/>
<circle cx="1596.5" cy="924.5" r="5.8" stroke="#3f51b0" stroke-width="3.2" fill="none"/>
<circle cx="1600.0" cy="924.0" r="5.8" stroke="#3f51b0" stroke-width="3.2" fill="none"/>
<circle cx="1603.5" cy="924.5" r="5.8" stroke="#3f51b0" stroke-width="3.2" fill="none"/>
<path d="M1619.8,951.2 V868.1 H1633.6 V951.2" stroke="#9a6633" stroke-width="4.2" fill="none" stroke-linejoin="miter"/>
<circle cx="1622.7" cy="868.5" r="5.8" stroke="#9a6633" stroke-width="2.6" fill="none"/>
<circle cx="1626.7" cy="866.5" r="5.8" stroke="#9a6633" stroke-width="2.6" fill="none"/>
<circle cx="1630.2" cy="867.0" r="5.8" stroke="#9a6633" stroke-width="2.6" fill="none"/>
<circle cx="1627.7" cy="869.5" r="5.8" stroke="#9a6633" stroke-width="2.6" fill="none"/>
<path d="M1664.3,951.2 V923.4 H1678.1 V951.2" stroke="#3f51b0" stroke-width="4.2" fill="none" stroke-linejoin="miter"/>
<circle cx="1668.2" cy="925.5" r="5.8" stroke="#3f51b0" stroke-width="3.2" fill="none"/>
<circle cx="1671.2" cy="923.0" r="5.8" stroke="#3f51b0" stroke-width="3.2" fill="none"/>
<circle cx="1674.7" cy="925.0" r="5.8" stroke="#3f51b0" stroke-width="3.2" fill="none"/>
<path d="M1691.0,951.2 V832.1 H1704.8 V951.2" stroke="#9a6633" stroke-width="4.2" fill="none" stroke-linejoin="miter"/>
<line x1="1697.9" y1="812.0" x2="1697.9" y2="831.0" stroke="#9a6633" stroke-width="2.5"/>
<line x1="1692.9" y1="812.0" x2="1702.9" y2="812.0" stroke="#9a6633" stroke-width="2.5"/>
<circle cx="1701.4" cy="813.7" r="5.8" stroke="#9a6633" stroke-width="2.6" fill="none"/>
<circle cx="1693.9" cy="817.9" r="5.8" stroke="#9a6633" stroke-width="2.6" fill="none"/>
<circle cx="1693.9" cy="844.6" r="5.8" stroke="#9a6633" stroke-width="2.6" fill="none"/>
<circle cx="1701.4" cy="842.9" r="5.8" stroke="#9a6633" stroke-width="2.6" fill="none"/>
<line x1="1444.8" y1="923.4" x2="1713.0" y2="923.4" stroke="#000000" stroke-width="2.7" stroke-linecap="round" stroke-dasharray="0 5.54"/>
<line x1="1440.0" y1="673.6" x2="1440.0" y2="952.6" stroke="#000000" stroke-width="2.7"/>
<line x1="1438.7" y1="951.2" x2="1715.8" y2="951.2" stroke="#000000" stroke-width="2.7"/>
<line x1="1428.2" y1="951.2" x2="1440.0" y2="951.2" stroke="#000000" stroke-width="2.7"/>
<text transform="translate(1426.4 964.2) scale(1 1.005)" font-size="34.5" fill="#000000" stroke="#000000" stroke-width="0.4" text-anchor="end">0</text>
<line x1="1433.4" y1="923.6" x2="1440.0" y2="923.6" stroke="#000000" stroke-width="2.7"/>
<line x1="1433.4" y1="896.0" x2="1440.0" y2="896.0" stroke="#000000" stroke-width="2.7"/>
<line x1="1433.4" y1="868.3" x2="1440.0" y2="868.3" stroke="#000000" stroke-width="2.7"/>
<line x1="1433.4" y1="840.7" x2="1440.0" y2="840.7" stroke="#000000" stroke-width="2.7"/>
<line x1="1428.2" y1="813.1" x2="1440.0" y2="813.1" stroke="#000000" stroke-width="2.7"/>
<text transform="translate(1426.4 826.1) scale(1 1.005)" font-size="34.5" fill="#000000" stroke="#000000" stroke-width="0.4" text-anchor="end">5</text>
<line x1="1433.4" y1="785.5" x2="1440.0" y2="785.5" stroke="#000000" stroke-width="2.7"/>
<line x1="1433.4" y1="757.9" x2="1440.0" y2="757.9" stroke="#000000" stroke-width="2.7"/>
<line x1="1433.4" y1="730.2" x2="1440.0" y2="730.2" stroke="#000000" stroke-width="2.7"/>
<line x1="1433.4" y1="702.6" x2="1440.0" y2="702.6" stroke="#000000" stroke-width="2.7"/>
<line x1="1428.2" y1="675.0" x2="1440.0" y2="675.0" stroke="#000000" stroke-width="2.7"/>
<text transform="translate(1426.4 688.0) scale(1 1.005)" font-size="34.5" fill="#000000" stroke="#000000" stroke-width="0.4" text-anchor="end">10</text>
<line x1="1470.2" y1="951.2" x2="1470.2" y2="963.2" stroke="#000000" stroke-width="2.7"/>
<text transform="translate(1479.4 988.4) rotate(-45) scale(1 1.045)" font-size="34.4" fill="#000000" stroke="#000000" stroke-width="0.4" text-anchor="end">CAD</text>
<line x1="1541.4" y1="951.2" x2="1541.4" y2="963.2" stroke="#000000" stroke-width="2.7"/>
<text transform="translate(1550.6 988.4) rotate(-45) scale(1 1.045)" font-size="34.4" fill="#000000" stroke="#000000" stroke-width="0.4" text-anchor="end">DHODH</text>
<line x1="1612.5" y1="951.2" x2="1612.5" y2="963.2" stroke="#000000" stroke-width="2.7"/>
<text transform="translate(1621.7 988.4) rotate(-45) scale(1 1.045)" font-size="34.4" fill="#000000" stroke="#000000" stroke-width="0.4" text-anchor="end">UMPS</text>
<line x1="1683.7" y1="951.2" x2="1683.7" y2="963.2" stroke="#000000" stroke-width="2.7"/>
<text transform="translate(1692.9 988.4) rotate(-45) scale(1 1.045)" font-size="34.4" fill="#000000" stroke="#000000" stroke-width="0.4" text-anchor="end">PPAT</text>
<text transform="translate(1472.1 679.0) scale(1 1.005)" font-size="28.5" fill="#000000" stroke="#000000" stroke-width="0.4" text-anchor="middle" letter-spacing="2.31">***</text>
<text transform="translate(1545.7 715.0) scale(1 1.005)" font-size="28.5" fill="#000000" stroke="#000000" stroke-width="0.4" text-anchor="middle" letter-spacing="2.31">***</text>
<text transform="translate(1619.4 859.9) scale(1 1.005)" font-size="28.5" fill="#000000" stroke="#000000" stroke-width="0.4" text-anchor="middle" letter-spacing="2.31">***</text>
<text transform="translate(1686.5 807.5) scale(1 1.005)" font-size="28.5" fill="#000000" stroke="#000000" stroke-width="0.4" text-anchor="middle" letter-spacing="2.31">***</text>
<text transform="translate(1043.5 1133.3) scale(1 1.03)" font-size="34" font-weight="bold" fill="#1c191a" stroke="#1c191a" stroke-width="0.4">D</text>
<text transform="translate(1308.5 1139.2) scale(1 1.08)" font-size="33.7" fill="#000000" stroke="#000000" stroke-width="0.4">MYCN_nucleotides</text>
<circle cx="1621.8" cy="1145.0" r="6.0" stroke="#3f51b0" stroke-width="2.6" fill="none"/>
<text transform="translate(1653.5 1155.0) scale(1 1.08)" font-size="26" fill="#000000" stroke="#000000" stroke-width="0.4">pCDH</text>
<circle cx="1621.8" cy="1178.3" r="6.0" stroke="#9a6633" stroke-width="2.6" fill="none"/>
<text transform="translate(1653.5 1188.2) scale(1 1.08)" font-size="26" fill="#000000" stroke="#000000" stroke-width="0.4">MYCN</text>
<path d="M1185.2,1468.8 V1414.2 H1194.2 V1468.8" stroke="#3f51b0" stroke-width="4.0" fill="none" stroke-linejoin="miter"/>
<circle cx="1189.7" cy="1407.2" r="5.5" stroke="#3f51b0" stroke-width="2.8" fill="none"/>
<circle cx="1189.7" cy="1416.2" r="5.5" stroke="#3f51b0" stroke-width="2.8" fill="none"/>
<circle cx="1189.7" cy="1418.0" r="5.5" stroke="#3f51b0" stroke-width="2.8" fill="none"/>
<path d="M1204.0,1468.8 V1261.4 H1213.0 V1468.8" stroke="#9a6633" stroke-width="4.0" fill="none" stroke-linejoin="miter"/>
<line x1="1208.5" y1="1243.5" x2="1208.5" y2="1260.4" stroke="#9a6633" stroke-width="2.3"/>
<line x1="1204.5" y1="1243.5" x2="1212.5" y2="1243.5" stroke="#9a6633" stroke-width="2.3"/>
<circle cx="1208.5" cy="1243.5" r="5.5" stroke="#9a6633" stroke-width="2.5" fill="none"/>
<circle cx="1208.5" cy="1259.4" r="5.5" stroke="#9a6633" stroke-width="2.5" fill="none"/>
<circle cx="1208.5" cy="1278.2" r="5.5" stroke="#9a6633" stroke-width="2.5" fill="none"/>
<path d="M1235.9,1468.8 V1414.2 H1244.9 V1468.8" stroke="#3f51b0" stroke-width="4.0" fill="none" stroke-linejoin="miter"/>
<circle cx="1240.4" cy="1411.2" r="5.5" stroke="#3f51b0" stroke-width="2.8" fill="none"/>
<circle cx="1240.4" cy="1417.2" r="5.5" stroke="#3f51b0" stroke-width="2.8" fill="none"/>
<circle cx="1240.4" cy="1414.0" r="5.5" stroke="#3f51b0" stroke-width="2.8" fill="none"/>
<path d="M1254.8,1468.8 V1354.5 H1263.8 V1468.8" stroke="#9a6633" stroke-width="4.0" fill="none" stroke-linejoin="miter"/>
<circle cx="1259.3" cy="1350.7" r="5.5" stroke="#9a6633" stroke-width="2.5" fill="none"/>
<circle cx="1259.3" cy="1355.6" r="5.5" stroke="#9a6633" stroke-width="2.5" fill="none"/>
<circle cx="1258.3" cy="1353.0" r="5.5" stroke="#9a6633" stroke-width="2.5" fill="none"/>
<path d="M1286.7,1468.8 V1414.2 H1295.7 V1468.8" stroke="#3f51b0" stroke-width="4.0" fill="none" stroke-linejoin="miter"/>
<circle cx="1291.2" cy="1412.5" r="5.5" stroke="#3f51b0" stroke-width="2.8" fill="none"/>
<circle cx="1291.2" cy="1415.5" r="5.5" stroke="#3f51b0" stroke-width="2.8" fill="none"/>
<path d="M1305.5,1468.8 V1391.0 H1314.5 V1468.8" stroke="#9a6633" stroke-width="4.0" fill="none" stroke-linejoin="miter"/>
<circle cx="1310.0" cy="1388.4" r="5.5" stroke="#9a6633" stroke-width="2.5" fill="none"/>
<circle cx="1310.0" cy="1391.4" r="5.5" stroke="#9a6633" stroke-width="2.5" fill="none"/>
<circle cx="1311.0" cy="1390.0" r="5.5" stroke="#9a6633" stroke-width="2.5" fill="none"/>
<path d="M1337.4,1468.8 V1414.2 H1346.4 V1468.8" stroke="#3f51b0" stroke-width="4.0" fill="none" stroke-linejoin="miter"/>
<circle cx="1341.9" cy="1411.2" r="5.5" stroke="#3f51b0" stroke-width="2.8" fill="none"/>
<circle cx="1341.9" cy="1417.0" r="5.5" stroke="#3f51b0" stroke-width="2.8" fill="none"/>
<path d="M1356.3,1468.8 V1278.0 H1365.3 V1468.8" stroke="#9a6633" stroke-width="4.0" fill="none" stroke-linejoin="miter"/>
<line x1="1360.8" y1="1266.3" x2="1360.8" y2="1277.0" stroke="#9a6633" stroke-width="2.3"/>
<line x1="1356.8" y1="1266.3" x2="1364.8" y2="1266.3" stroke="#9a6633" stroke-width="2.3"/>
<circle cx="1360.3" cy="1266.3" r="5.5" stroke="#9a6633" stroke-width="2.5" fill="none"/>
<circle cx="1361.8" cy="1277.2" r="5.5" stroke="#9a6633" stroke-width="2.5" fill="none"/>
<circle cx="1360.3" cy="1287.2" r="5.5" stroke="#9a6633" stroke-width="2.5" fill="none"/>
<path d="M1388.2,1468.8 V1414.2 H1397.2 V1468.8" stroke="#3f51b0" stroke-width="4.0" fill="none" stroke-linejoin="miter"/>
<circle cx="1392.7" cy="1413.5" r="5.5" stroke="#3f51b0" stroke-width="2.8" fill="none"/>
<circle cx="1392.7" cy="1415.5" r="5.5" stroke="#3f51b0" stroke-width="2.8" fill="none"/>
<path d="M1407.0,1468.8 V1392.0 H1416.0 V1468.8" stroke="#9a6633" stroke-width="4.0" fill="none" stroke-linejoin="miter"/>
<circle cx="1411.5" cy="1387.4" r="5.5" stroke="#9a6633" stroke-width="2.5" fill="none"/>
<circle cx="1412.0" cy="1391.0" r="5.5" stroke="#9a6633" stroke-width="2.5" fill="none"/>
<circle cx="1410.5" cy="1394.7" r="5.5" stroke="#9a6633" stroke-width="2.5" fill="none"/>
<path d="M1438.9,1468.8 V1414.2 H1447.9 V1468.8" stroke="#3f51b0" stroke-width="4.0" fill="none" stroke-linejoin="miter"/>
<circle cx="1443.4" cy="1411.2" r="5.5" stroke="#3f51b0" stroke-width="2.8" fill="none"/>
<circle cx="1443.4" cy="1419.2" r="5.5" stroke="#3f51b0" stroke-width="2.8" fill="none"/>
<path d="M1457.8,1468.8 V1325.5 H1466.8 V1468.8" stroke="#9a6633" stroke-width="4.0" fill="none" stroke-linejoin="miter"/>
<circle cx="1462.8" cy="1320.9" r="5.5" stroke="#9a6633" stroke-width="2.5" fill="none"/>
<circle cx="1461.8" cy="1327.9" r="5.5" stroke="#9a6633" stroke-width="2.5" fill="none"/>
<circle cx="1462.2" cy="1324.0" r="5.5" stroke="#9a6633" stroke-width="2.5" fill="none"/>
<path d="M1489.6,1468.8 V1414.2 H1498.6 V1468.8" stroke="#3f51b0" stroke-width="4.0" fill="none" stroke-linejoin="miter"/>
<circle cx="1494.1" cy="1412.0" r="5.5" stroke="#3f51b0" stroke-width="2.8" fill="none"/>
<circle cx="1494.1" cy="1417.0" r="5.5" stroke="#3f51b0" stroke-width="2.8" fill="none"/>
<path d="M1508.5,1468.8 V1374.0 H1517.5 V1468.8" stroke="#9a6633" stroke-width="4.0" fill="none" stroke-linejoin="miter"/>
<circle cx="1513.0" cy="1370.5" r="5.5" stroke="#9a6633" stroke-width="2.5" fill="none"/>
<circle cx="1513.5" cy="1375.5" r="5.5" stroke="#9a6633" stroke-width="2.5" fill="none"/>
<circle cx="1512.5" cy="1373.0" r="5.5" stroke="#9a6633" stroke-width="2.5" fill="none"/>
<path d="M1540.4,1468.8 V1414.2 H1549.4 V1468.8" stroke="#3f51b0" stroke-width="4.0" fill="none" stroke-linejoin="miter"/>
<circle cx="1544.9" cy="1410.2" r="5.5" stroke="#3f51b0" stroke-width="2.8" fill="none"/>
<circle cx="1544.9" cy="1417.2" r="5.5" stroke="#3f51b0" stroke-width="2.8" fill="none"/>
<path d="M1559.2,1468.8 V1341.0 H1568.2 V1468.8" stroke="#9a6633" stroke-width="4.0" fill="none" stroke-linejoin="miter"/>
<line x1="1563.7" y1="1327.3" x2="1563.7" y2="1340.0" stroke="#9a6633" stroke-width="2.3"/>
<line x1="1559.7" y1="1327.3" x2="1567.7" y2="1327.3" stroke="#9a6633" stroke-width="2.3"/>
<circle cx="1563.7" cy="1327.3" r="5.5" stroke="#9a6633" stroke-width="2.5" fill="none"/>
<circle cx="1564.7" cy="1344.3" r="5.5" stroke="#9a6633" stroke-width="2.5" fill="none"/>
<circle cx="1563.2" cy="1348.3" r="5.5" stroke="#9a6633" stroke-width="2.5" fill="none"/>
<path d="M1591.1,1468.8 V1414.2 H1600.1 V1468.8" stroke="#3f51b0" stroke-width="4.0" fill="none" stroke-linejoin="miter"/>
<circle cx="1595.6" cy="1406.8" r="5.5" stroke="#3f51b0" stroke-width="2.8" fill="none"/>
<circle cx="1596.6" cy="1415.2" r="5.5" stroke="#3f51b0" stroke-width="2.8" fill="none"/>
<circle cx="1595.6" cy="1422.5" r="5.5" stroke="#3f51b0" stroke-width="2.8" fill="none"/>
<path d="M1610.0,1468.8 V1256.0 H1619.0 V1468.8" stroke="#9a6633" stroke-width="4.0" fill="none" stroke-linejoin="miter"/>
<line x1="1614.5" y1="1248.5" x2="1614.5" y2="1255.0" stroke="#9a6633" stroke-width="2.3"/>
<line x1="1610.5" y1="1248.5" x2="1618.5" y2="1248.5" stroke="#9a6633" stroke-width="2.3"/>
<circle cx="1614.0" cy="1248.5" r="5.5" stroke="#9a6633" stroke-width="2.5" fill="none"/>
<circle cx="1615.0" cy="1251.0" r="5.5" stroke="#9a6633" stroke-width="2.5" fill="none"/>
<circle cx="1614.5" cy="1264.3" r="5.5" stroke="#9a6633" stroke-width="2.5" fill="none"/>
<path d="M1641.9,1468.8 V1414.2 H1650.9 V1468.8" stroke="#3f51b0" stroke-width="4.0" fill="none" stroke-linejoin="miter"/>
<circle cx="1646.4" cy="1414.5" r="5.5" stroke="#3f51b0" stroke-width="2.8" fill="none"/>
<circle cx="1646.4" cy="1416.0" r="5.5" stroke="#3f51b0" stroke-width="2.8" fill="none"/>
<path d="M1660.7,1468.8 V1391.0 H1669.7 V1468.8" stroke="#9a6633" stroke-width="4.0" fill="none" stroke-linejoin="miter"/>
<circle cx="1665.2" cy="1388.0" r="5.5" stroke="#9a6633" stroke-width="2.5" fill="none"/>
<circle cx="1664.7" cy="1391.4" r="5.5" stroke="#9a6633" stroke-width="2.5" fill="none"/>
<circle cx="1665.7" cy="1390.0" r="5.5" stroke="#9a6633" stroke-width="2.5" fill="none"/>
<path d="M1692.6,1468.8 V1414.2 H1701.6 V1468.8" stroke="#3f51b0" stroke-width="4.0" fill="none" stroke-linejoin="miter"/>
<circle cx="1696.6" cy="1406.8" r="5.5" stroke="#3f51b0" stroke-width="2.8" fill="none"/>
<circle cx="1698.6" cy="1410.2" r="5.5" stroke="#3f51b0" stroke-width="2.8" fill="none"/>
<circle cx="1697.6" cy="1421.7" r="5.5" stroke="#3f51b0" stroke-width="2.8" fill="none"/>
<path d="M1711.5,1468.8 V1369.7 H1720.5 V1468.8" stroke="#9a6633" stroke-width="4.0" fill="none" stroke-linejoin="miter"/>
<line x1="1716.0" y1="1359.2" x2="1716.0" y2="1368.7" stroke="#9a6633" stroke-width="2.3"/>
<line x1="1712.0" y1="1359.2" x2="1720.0" y2="1359.2" stroke="#9a6633" stroke-width="2.3"/>
<circle cx="1715.5" cy="1359.2" r="5.5" stroke="#9a6633" stroke-width="2.5" fill="none"/>
<circle cx="1717.2" cy="1367.5" r="5.5" stroke="#9a6633" stroke-width="2.5" fill="none"/>
<circle cx="1716.0" cy="1379.5" r="5.5" stroke="#9a6633" stroke-width="2.5" fill="none"/>
<line x1="1181.8" y1="1414.2" x2="1727.0" y2="1414.2" stroke="#000000" stroke-width="2.7" stroke-linecap="round" stroke-dasharray="0 5.54"/>
<line x1="1177.0" y1="1191.1" x2="1177.0" y2="1471.0" stroke="#000000" stroke-width="4.3"/>
<line x1="1174.8" y1="1468.8" x2="1728.8" y2="1468.8" stroke="#000000" stroke-width="4.3"/>
<line x1="1169.5" y1="1468.8" x2="1177.0" y2="1468.8" stroke="#000000" stroke-width="4.3"/>
<text transform="translate(1163.0 1480.6) scale(1 1.085)" font-size="34.0" fill="#000000" stroke="#000000" stroke-width="0.4" text-anchor="end">0</text>
<line x1="1169.5" y1="1413.7" x2="1177.0" y2="1413.7" stroke="#000000" stroke-width="4.3"/>
<text transform="translate(1163.0 1425.5) scale(1 1.085)" font-size="34.0" fill="#000000" stroke="#000000" stroke-width="0.4" text-anchor="end">1</text>
<line x1="1169.5" y1="1358.6" x2="1177.0" y2="1358.6" stroke="#000000" stroke-width="4.3"/>
<text transform="translate(1163.0 1370.4) scale(1 1.085)" font-size="34.0" fill="#000000" stroke="#000000" stroke-width="0.4" text-anchor="end">2</text>
<line x1="1169.5" y1="1303.5" x2="1177.0" y2="1303.5" stroke="#000000" stroke-width="4.3"/>
<text transform="translate(1163.0 1315.3) scale(1 1.085)" font-size="34.0" fill="#000000" stroke="#000000" stroke-width="0.4" text-anchor="end">3</text>
<line x1="1169.5" y1="1248.4" x2="1177.0" y2="1248.4" stroke="#000000" stroke-width="4.3"/>
<text transform="translate(1163.0 1260.2) scale(1 1.085)" font-size="34.0" fill="#000000" stroke="#000000" stroke-width="0.4" text-anchor="end">4</text>
<line x1="1169.5" y1="1193.3" x2="1177.0" y2="1193.3" stroke="#000000" stroke-width="4.3"/>
<text transform="translate(1163.0 1205.1) scale(1 1.085)" font-size="34.0" fill="#000000" stroke="#000000" stroke-width="0.4" text-anchor="end">5</text>
<line x1="1198.5" y1="1468.8" x2="1198.5" y2="1477.0" stroke="#000000" stroke-width="4.3"/>
<text transform="translate(1206.9 1504.8) rotate(-45) scale(1 1.045)" font-size="34.4" fill="#000000" stroke="#000000" stroke-width="0.4" text-anchor="end">AMP</text>
<line x1="1249.2" y1="1468.8" x2="1249.2" y2="1477.0" stroke="#000000" stroke-width="4.3"/>
<text transform="translate(1257.6 1504.8) rotate(-45) scale(1 1.045)" font-size="34.4" fill="#000000" stroke="#000000" stroke-width="0.4" text-anchor="end">ADP</text>
<line x1="1300.0" y1="1468.8" x2="1300.0" y2="1477.0" stroke="#000000" stroke-width="4.3"/>
<text transform="translate(1308.4 1504.8) rotate(-45) scale(1 1.045)" font-size="34.4" fill="#000000" stroke="#000000" stroke-width="0.4" text-anchor="end">ATP</text>
<line x1="1350.7" y1="1468.8" x2="1350.7" y2="1477.0" stroke="#000000" stroke-width="4.3"/>
<text transform="translate(1359.1 1504.8) rotate(-45) scale(1 1.045)" font-size="34.4" fill="#000000" stroke="#000000" stroke-width="0.4" text-anchor="end">CDP</text>
<line x1="1401.5" y1="1468.8" x2="1401.5" y2="1477.0" stroke="#000000" stroke-width="4.3"/>
<text transform="translate(1409.9 1504.8) rotate(-45) scale(1 1.045)" font-size="34.4" fill="#000000" stroke="#000000" stroke-width="0.4" text-anchor="end">CTP</text>
<line x1="1452.2" y1="1468.8" x2="1452.2" y2="1477.0" stroke="#000000" stroke-width="4.3"/>
<text transform="translate(1460.6 1504.8) rotate(-45) scale(1 1.045)" font-size="34.4" fill="#000000" stroke="#000000" stroke-width="0.4" text-anchor="end">GDP</text>
<line x1="1502.9" y1="1468.8" x2="1502.9" y2="1477.0" stroke="#000000" stroke-width="4.3"/>
<text transform="translate(1511.3 1504.8) rotate(-45) scale(1 1.045)" font-size="34.4" fill="#000000" stroke="#000000" stroke-width="0.4" text-anchor="end">GTP</text>
<line x1="1553.7" y1="1468.8" x2="1553.7" y2="1477.0" stroke="#000000" stroke-width="4.3"/>
<text transform="translate(1562.1 1504.8) rotate(-45) scale(1 1.045)" font-size="34.4" fill="#000000" stroke="#000000" stroke-width="0.4" text-anchor="end">UMP</text>
<line x1="1604.4" y1="1468.8" x2="1604.4" y2="1477.0" stroke="#000000" stroke-width="4.3"/>
<text transform="translate(1612.8 1504.8) rotate(-45) scale(1 1.045)" font-size="34.4" fill="#000000" stroke="#000000" stroke-width="0.4" text-anchor="end">UDP</text>
<line x1="1655.2" y1="1468.8" x2="1655.2" y2="1477.0" stroke="#000000" stroke-width="4.3"/>
<text transform="translate(1663.6 1504.8) rotate(-45) scale(1 1.045)" font-size="34.4" fill="#000000" stroke="#000000" stroke-width="0.4" text-anchor="end">UTP</text>
<line x1="1705.9" y1="1468.8" x2="1705.9" y2="1477.0" stroke="#000000" stroke-width="4.3"/>
<text transform="translate(1714.3 1504.8) rotate(-45) scale(1 1.045)" font-size="34.4" fill="#000000" stroke="#000000" stroke-width="0.4" text-anchor="end">dTTP</text>
<text transform="translate(1077.3 1323.8) rotate(-90) scale(1 1.005)" font-size="33.7" fill="#000000" stroke="#000000" stroke-width="0.4" text-anchor="middle">Relative levels</text>
<text transform="translate(1118.8 1324.2) rotate(-90) scale(1 1.005)" font-size="33.9" fill="#000000" stroke="#000000" stroke-width="0.4" text-anchor="middle">(intracellular nucleotides)</text>
<text transform="translate(1204.2 1232.7) scale(1 1.005)" font-size="28.5" fill="#000000" stroke="#000000" stroke-width="0.4" text-anchor="middle" letter-spacing="2.31">***</text>
<text transform="translate(1253.1 1342.3) scale(1 1.005)" font-size="28.5" fill="#000000" stroke="#000000" stroke-width="0.4" text-anchor="middle" letter-spacing="2.31">***</text>
<text transform="translate(1303.2 1379.0) scale(1 1.005)" font-size="28.5" fill="#000000" stroke="#000000" stroke-width="0.4" text-anchor="middle" letter-spacing="2.31">***</text>
<text transform="translate(1355.3 1260.1) scale(1 1.005)" font-size="28.5" fill="#000000" stroke="#000000" stroke-width="0.4" text-anchor="middle" letter-spacing="2.31">***</text>
<text transform="translate(1406.2 1379.0) scale(1 1.005)" font-size="28.5" fill="#000000" stroke="#000000" stroke-width="0.4" text-anchor="middle" letter-spacing="2.31">***</text>
<text transform="translate(1456.5 1309.1) scale(1 1.005)" font-size="28.5" fill="#000000" stroke="#000000" stroke-width="0.4" text-anchor="middle" letter-spacing="2.31">***</text>
<text transform="translate(1508.8 1354.8) scale(1 1.005)" font-size="28.5" fill="#000000" stroke="#000000" stroke-width="0.4" text-anchor="middle" letter-spacing="2.31">***</text>
<text transform="translate(1561.2 1316.1) scale(1 1.005)" font-size="28.5" fill="#000000" stroke="#000000" stroke-width="0.4" text-anchor="middle" letter-spacing="2.31">***</text>
<text transform="translate(1610.8 1239.7) scale(1 1.005)" font-size="28.5" fill="#000000" stroke="#000000" stroke-width="0.4" text-anchor="middle" letter-spacing="2.31">***</text>
<text transform="translate(1655.8 1378.6) scale(1 1.005)" font-size="28.5" fill="#000000" stroke="#000000" stroke-width="0.4" text-anchor="middle" letter-spacing="2.31">***</text>
<text transform="translate(1708.6 1345.9) scale(1 1.005)" font-size="28.5" fill="#000000" stroke="#000000" stroke-width="0.4" text-anchor="middle" letter-spacing="2.31">**</text>
</svg>
</body>
</html>
